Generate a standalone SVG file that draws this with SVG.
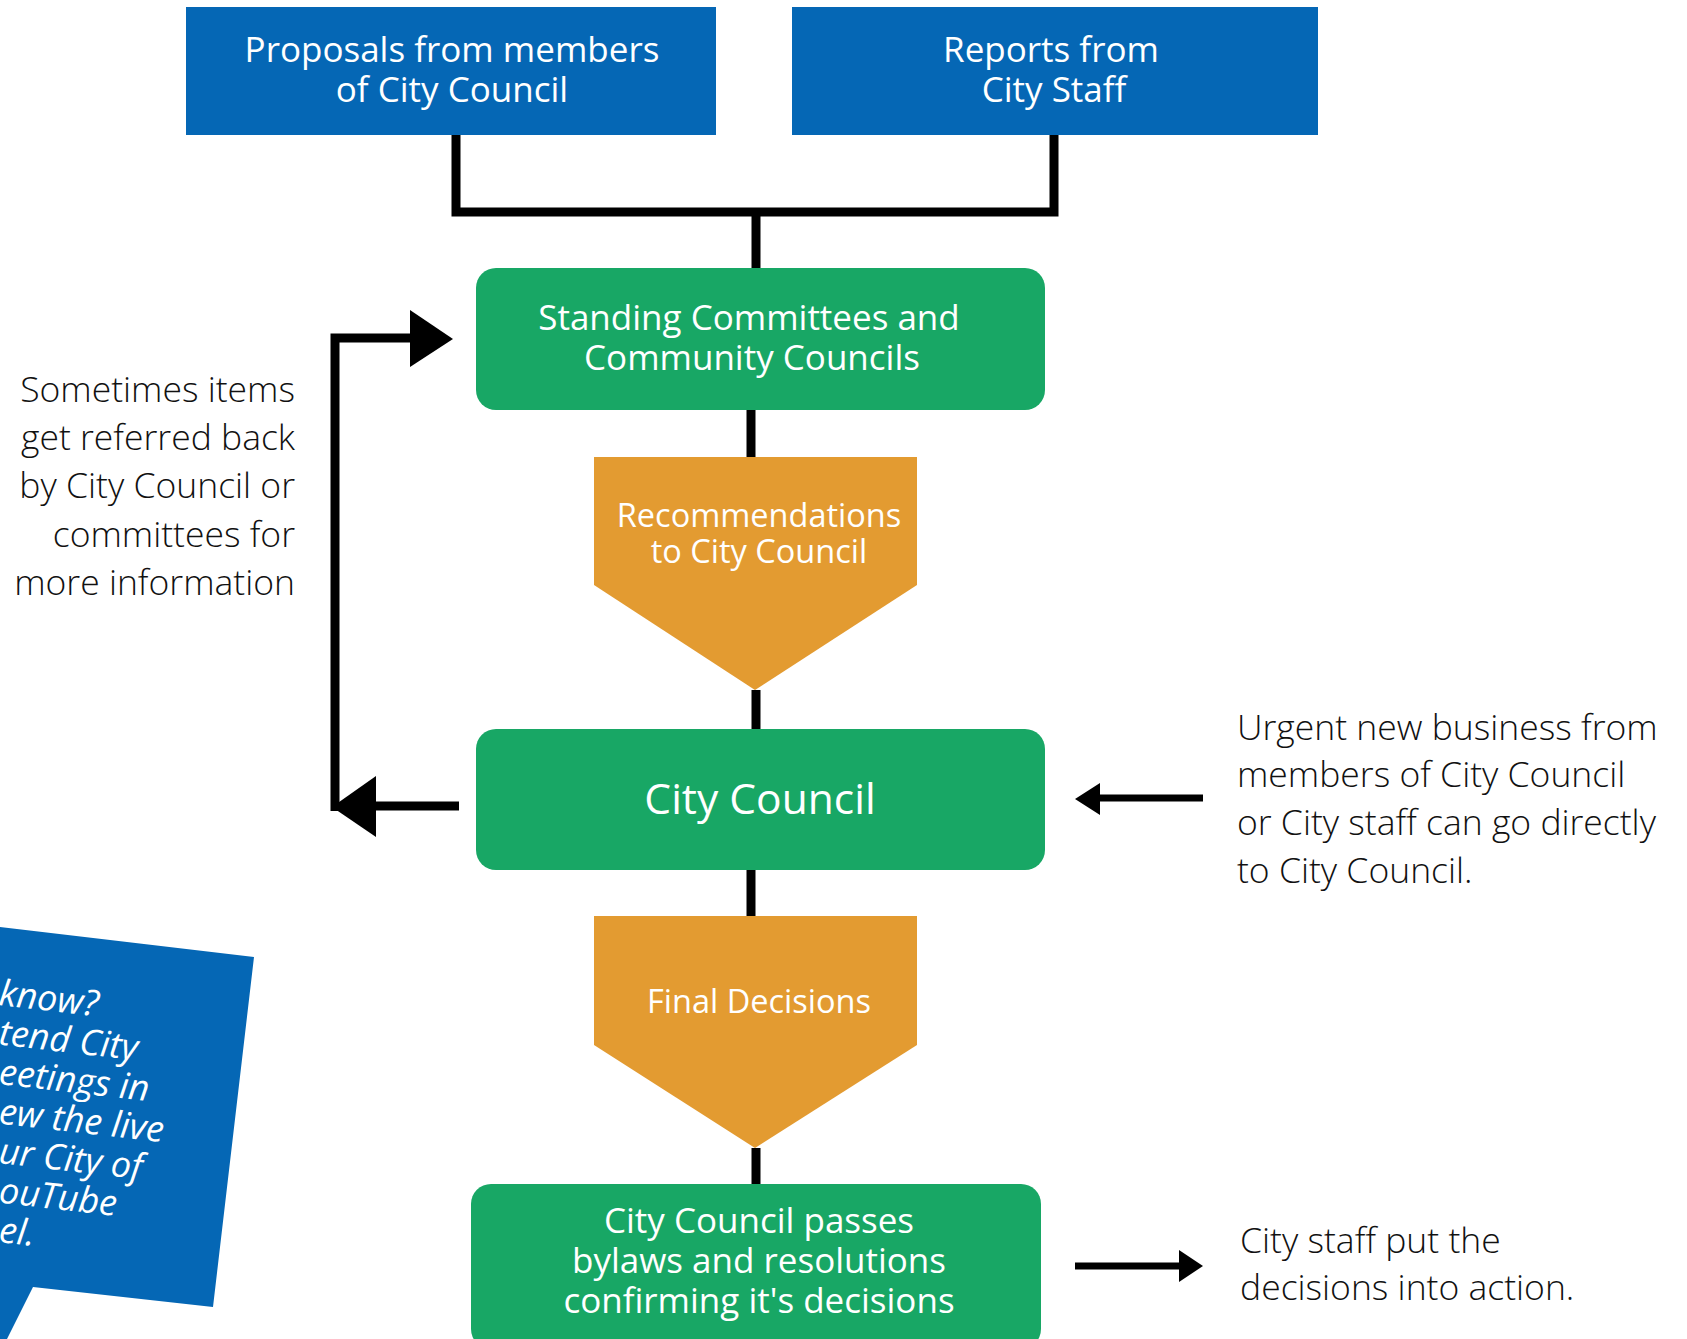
<svg xmlns="http://www.w3.org/2000/svg" width="1687" height="1339" viewBox="0 0 1687 1339">
<style>
.blue{fill:#0567b5}
.green{fill:#18a765}
.orange{fill:#e39b31}
.wt{fill:#ffffff;font-family:"Open Sans","Liberation Sans",sans-serif;font-weight:500;text-anchor:middle}
.ann{fill:#111111;font-family:"Open Sans","Liberation Sans",sans-serif;font-weight:300;font-size:35.5px}
.cl{fill:#ffffff;font-family:"Open Sans","Liberation Sans",sans-serif;font-weight:500;font-style:italic;font-size:36px}
.ln{fill:none;stroke:#000000;stroke-width:9}
.ln7{fill:none;stroke:#000000;stroke-width:7}
</style>
<rect width="1687" height="1339" fill="#ffffff"/>
<g id="connectors">
<path class="ln" d="M456 135 V212 H1054 V135"/>
<path class="ln" d="M756 212 V268"/>
<path class="ln" d="M751 410 V457"/>
<path class="ln" d="M756 690 V729"/>
<path class="ln" d="M751 870 V916"/>
<path class="ln" d="M756 1148 V1184"/>
<path class="ln" d="M459 806 H370"/>
<polygon points="332,807 376,776 376,837" fill="#000"/>
<path class="ln" d="M335 811 V338 H412"/>
<polygon points="410,310 453,339 410,367" fill="#000"/>
<path class="ln7" d="M1203 798 H1096"/>
<polygon points="1075,799 1100,783 1100,815" fill="#000"/>
<path class="ln7" d="M1075 1266 H1181"/>
<polygon points="1179,1250 1203,1266 1179,1282" fill="#000"/>
</g>
<g id="proposals">
<rect class="blue" x="186" y="7" width="530" height="128"/>
<text class="wt" font-size="35" x="452" y="62">Proposals from members</text>
<text class="wt" font-size="35" x="452" y="102">of City Council</text>
</g>
<g id="reports">
<rect class="blue" x="792" y="7" width="526" height="128"/>
<text class="wt" font-size="35" x="1051" y="62">Reports from</text>
<text class="wt" font-size="35" x="1054" y="102">City Staff</text>
</g>
<g id="standing">
<rect class="green" x="476" y="268" width="569" height="142" rx="20"/>
<text class="wt" font-size="35" x="749" y="330">Standing Committees and</text>
<text class="wt" font-size="35" x="752" y="370">Community Councils</text>
</g>
<g id="recommendations">
<polygon class="orange" points="594,457 917,457 917,585 755,690 594,585"/>
<text class="wt" font-size="32.5" x="759" y="527">Recommendations</text>
<text class="wt" font-size="32.5" x="759" y="563">to City Council</text>
</g>
<g id="citycouncil">
<rect class="green" x="476" y="729" width="569" height="141" rx="20"/>
<text class="wt" font-size="42.5" x="760" y="814">City Council</text>
</g>
<g id="final">
<polygon class="orange" points="594,916 917,916 917,1045 755,1148 594,1045"/>
<text class="wt" font-size="32.5" x="759" y="1013">Final Decisions</text>
</g>
<g id="bylaws">
<rect class="green" x="471" y="1184" width="570" height="165" rx="20"/>
<text class="wt" font-size="35" x="759" y="1233">City Council passes</text>
<text class="wt" font-size="35" x="759" y="1273">bylaws and resolutions</text>
<text class="wt" font-size="35" x="759" y="1313">confirming it's decisions</text>
</g>
<g id="note-referred">
<text class="ann" text-anchor="end" x="295" y="402">Sometimes items</text>
<text class="ann" text-anchor="end" x="295" y="450">get referred back</text>
<text class="ann" text-anchor="end" x="295" y="498">by City Council or</text>
<text class="ann" text-anchor="end" x="295" y="547">committees for</text>
<text class="ann" text-anchor="end" x="295" y="595">more information</text>
</g>
<g id="note-urgent">
<text class="ann" x="1237" y="740">Urgent new business from</text>
<text class="ann" x="1237" y="787">members of City Council</text>
<text class="ann" x="1237" y="835">or City staff can go directly</text>
<text class="ann" x="1237" y="883">to City Council.</text>
</g>
<g id="note-staff">
<text class="ann" x="1240" y="1253">City staff put the</text>
<text class="ann" x="1240" y="1300">decisions into action.</text>
</g>
<g id="callout">
<polygon class="blue" points="0,927 254,957 213,1307 33,1287 7,1339 0,1339"/>
<text class="cl" transform="translate(-2,1005) rotate(6.5)">know?</text>
<text class="cl" transform="translate(-2,1044.5) rotate(6.5)">tend City</text>
<text class="cl" transform="translate(-2,1084) rotate(6.5)">eetings in</text>
<text class="cl" transform="translate(-2,1123.5) rotate(6.5)">ew the live</text>
<text class="cl" transform="translate(-2,1163) rotate(6.5)">ur City of</text>
<text class="cl" transform="translate(-2,1202.5) rotate(6.5)">ouTube</text>
<text class="cl" transform="translate(-2,1242) rotate(6.5)">el.</text>
</g>
</svg>
